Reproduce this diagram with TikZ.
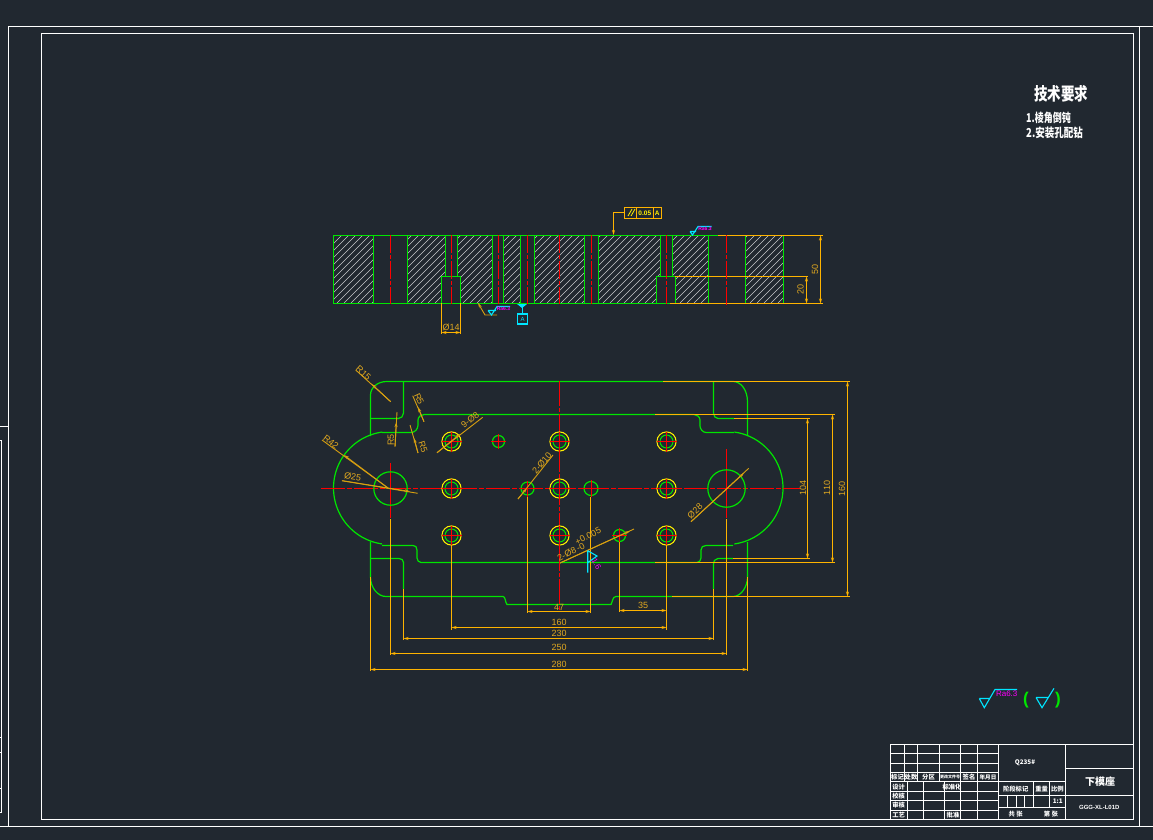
\documentclass[tikz,border=0pt]{standalone}
\usepackage{fontspec}
\usepackage{graphicx}
\setmainfont{Liberation Sans}
\newfontfamily\cjk{Noto Sans CJK SC}
\usetikzlibrary{arrows.meta}
\definecolor{bgc}{HTML}{212830}
\definecolor{grn}{HTML}{00E600}
\definecolor{org}{HTML}{FFB400}
\definecolor{dimt}{HTML}{E0A820}
\definecolor{ldrc}{HTML}{D8A010}
\definecolor{redc}{HTML}{FF0000}
\definecolor{yel}{HTML}{FFF000}
\definecolor{cya}{HTML}{00E5FF}
\definecolor{mag}{HTML}{FF00FF}
\tikzset{
 x=1pt,y=-1pt,
 frameline/.style={draw=white,line width=1.1pt},
 tbl/.style={draw=white,line width=1pt},
 gl/.style={draw=grn,line width=1.2pt},
 ol/.style={draw=org,line width=1.2pt},
 rl/.style={draw=redc,line width=1.25pt,dash pattern=on 18pt off 2pt on 4pt off 2pt},
 rlong/.style={draw=redc,line width=1.4pt,dash pattern=on 24pt off 2pt on 5pt off 2pt},
 rsolid/.style={draw=redc,line width=1.4pt},
 cl/.style={draw=cya,line width=1.1pt},
 hatchline/.style={draw=white!75!bgc,line width=.6pt},
 dimarrow/.style={draw=org,line width=1.2pt,{Stealth[length=5pt,width=3pt]}-{Stealth[length=5pt,width=3pt]}},
 ldrline/.style={draw=ldrc,line width=.9pt},
 dimtxt/.style={text=dimt,font=\fontsize{9}{9}\selectfont,inner sep=0pt},
 tbt/.style={text=white,font=\cjk\bfseries\fontsize{6.3}{6.3}\selectfont,inner sep=0pt},
 magt/.style={text=mag,font=\fontsize{8}{8}\selectfont,inner sep=0pt},
 wht/.style={text=white,inner sep=0pt},
}
\newcommand\ldr[3]{\draw[ldrline] #1 -- #3; \draw[ldrline,-{Stealth[length=5pt,width=3pt]}] #1 -- #2;}
\newcommand\cbore[2]{\draw[yel,line width=1pt] (#1,#2) circle (9.6);\draw[gl,line width=1pt] (#1,#2) circle (6.5);
 \draw[redc,line width=1pt] (#1-10,#2) -- (#1+10,#2) (#1,#2-10) -- (#1,#2+10);}
\newcommand\shole[3]{\draw[gl] (#1,#2) circle (#3);
 \draw[redc,line width=1pt] (#1-#3-1.5,#2) -- (#1+#3+1.5,#2) (#1,#2-#3-1.5) -- (#1,#2+#3+1.5);}
\begin{document}
\begin{tikzpicture}
\useasboundingbox (0,0) rectangle (1153,840);
\fill[bgc] (0,0) rectangle (1153,840);
% frames
\draw[frameline] (1153,26.5) -- (8.5,26.5) -- (8.5,826.5);
\draw[frameline] (0,826.5) -- (1153,826.5);
\draw[frameline] (1139.5,26.5) -- (1139.5,826.5);
\draw[frameline] (41.5,33.5) rectangle (1133.5,819.5);
\draw[frameline] (0,426.5) -- (8.5,426.5);
\draw[frameline] (0,440.5) -- (1.5,440.5) -- (1.5,812.5) -- (0,812.5);
\draw[frameline] (0,737.5) -- (1.5,737.5) (0,752.5) -- (1.5,752.5) (0,788.5) -- (1.5,788.5);
% hatching of the section
\begin{scope}
\clip (333,235) rectangle (373,303)
 (407,235) -- (445,235) -- (445,276) -- (441.5,276) -- (441.5,303) -- (407,303) -- cycle
 (457,235) -- (492,235) -- (492,303) -- (460.5,303) -- (460.5,276) -- (457,276) -- cycle
 (503,235) rectangle (520.5,303)
 (534.5,235) rectangle (584.5,303)
 (598,235) -- (660,235) -- (660,276) -- (656,276) -- (656,303) -- (598,303) -- cycle
 (672,235) -- (708,235) -- (708,303) -- (675,303) -- (675,276) -- (672,276) -- cycle
 (745,235) rectangle (783,303);
\foreach \k in {260,267,...,790}{\draw[hatchline] (\k,303) -- (\k+68,235);}
\end{scope}
% section outlines
\draw[gl] (333,235.5) -- (718,235.5) (333,303.5) -- (670,303.5) (333.5,235) -- (333.5,303);
\foreach \k in {373.5,407.5,492.5,503.5,520.5,534.5,584.5,598.5,708.5,745.5,783.5}{\draw[gl] (\k,235) -- (\k,303);}
\draw[gl] (445.5,235) -- (445.5,276) (457.5,235) -- (457.5,276) (441.5,303) -- (441.5,276.5) -- (460.5,276.5) -- (460.5,303);
\draw[gl] (660.5,235) -- (660.5,276) (672.5,235) -- (672.5,276) (656.5,303) -- (656.5,276.5) -- (675.5,276.5) -- (675.5,303);
\draw[ol] (718,235.5) -- (823,235.5) (670,303.5) -- (823,303.5) (675,276.5) -- (808,276.5);
\foreach \k in {390.5,451.5,498.5,527.5,559.5,591.5,666.5}{\draw[rl] (\k,235) -- (\k,303.5);}
\draw[rl] (726.5,235) -- (726.5,307);
% section dimensions
\draw[dimarrow] (820.5,235.5) -- (820.5,303.5);
\node[dimtxt,rotate=90] (d50) at (815,269) {50};
\draw[dimarrow] (806.5,276.5) -- (806.5,303.5);
\node[dimtxt,rotate=90] (d20) at (800.5,289) {20};
\draw[ol] (441.5,303) -- (441.5,333.5) (460.5,303) -- (460.5,333.5);
\draw[dimarrow] (441.5,332.5) -- (460.5,332.5);
\node[dimtxt] (d14) at (451,327) {Ø14};
% section roughness, datum, tolerance
\draw[ldrline,{Stealth[length=5pt,width=3pt]}-] (478,303) -- (485,315) -- (497,315);
\draw[cl] (488,310.5) -- (496,310.5) (488,310.5) -- (491.5,315) -- (497,306.5) -- (510,306.5);
\node[magt,font=\bfseries\fontsize{5}{5}\selectfont] (ra1) at (503.5,309) {Ra6.3};
\fill[cya] (517,304) -- (527,304) -- (522,308) -- cycle;
\draw[cl] (522.5,306) -- (522.5,314);
\node[cl,draw,minimum width=10.5pt,minimum height=10pt,inner sep=0pt,text=cya,font=\fontsize{6}{6}\selectfont] (datA) at (522.5,319) {A};
\draw[ol] (624.5,207.5) rectangle (661.5,218.5) (636.5,207.5) -- (636.5,218.5) (653.5,207.5) -- (653.5,218.5);
\draw[ol,draw=yel,line width=.8pt] (628,216) -- (632,209) (631,216) -- (635,209);
\node[text=yel,inner sep=0pt,font=\bfseries\fontsize{6.5}{6.5}\selectfont] (tol) at (644.8,213) {0.05};
\node[text=yel,inner sep=0pt,font=\bfseries\fontsize{6.5}{6.5}\selectfont] (tola) at (657.3,213) {A};
\draw[ol,-{Stealth[length=5pt,width=3pt]}] (624.5,212.5) -- (613.5,212.5) -- (613.5,235);
\draw[cl] (690,231.5) -- (696,231.5) (690,231.5) -- (692.5,235) -- (698,226.5) -- (711.7,226.5);
\node[magt,font=\bfseries\fontsize{5}{5}\selectfont] (ra2) at (705,229) {Ra6.3};
% plan view outlines
\draw[gl] (370.5,436) -- (370.5,395) .. controls (370.5,387.6) and (377.5,381.5) .. (386.7,381.5) -- (733,381.5) .. controls (741,381.5) and (747.5,390) .. (747.5,402) -- (747.5,436);
\draw[gl] (403.5,381.5) -- (403.5,413) .. controls (403.5,416) and (401,418.5) .. (398.5,418.5) -- (370.5,418.5);
\draw[gl] (713.5,381.5) -- (713.5,413) .. controls (713.5,416) and (715.5,418.5) .. (718,418.5) -- (734,418.5);
\draw[gl] plot[domain=98:262,samples=70] ({390+56.5*cos(\x)},{488+56.5*sin(\x)});
\draw[gl] plot[domain=-82:82,samples=70] ({726.5+56.5*cos(\x)},{488+56.5*sin(\x)});
\draw[gl] (382,432.5) -- (411,432.5) .. controls (415,432.5) and (418,429) .. (418,425) -- (418,420) .. controls (418,417) and (421,414.5) .. (424,414.5) -- (694,414.5) .. controls (697,414.5) and (700,417) .. (700,420) -- (700,426) .. controls (700,429) and (703,432.5) .. (706,432.5) -- (734,432.5);
\draw[gl] (382,545.5) -- (413,545.5) .. controls (415.5,545.5) and (417,547) .. (417,550) -- (417,558) .. controls (417,560.5) and (419,562.5) .. (421,562.5) -- (697,562.5) .. controls (699,562.5) and (701,560.5) .. (701,558) -- (701,550) .. controls (701,547) and (703,545.5) .. (706,545.5) -- (733,545.5);
\draw[gl] (370.5,542) -- (370.5,577) .. controls (370.5,588) and (378,596.5) .. (386,596.5) -- (503,596.5) .. controls (505.5,596.5) and (505,602) .. (507,604.5) -- (611,604.5) .. controls (612.5,602) and (612.5,596.5) .. (616,596.5) -- (733,596.5) .. controls (741,596.5) and (747.5,587) .. (747.5,577) -- (747.5,542);
\draw[gl] (370.5,558.5) -- (399,558.5) .. controls (401.5,558.5) and (403.5,560) .. (403.5,562.5) -- (403.5,589);
\draw[gl] (713.5,589) -- (713.5,565) .. controls (713.5,561) and (715,558.5) .. (718,558.5) -- (733,558.5);
% plan view centre lines
\draw[rlong] (321,488.5) -- (800,488.5);
\foreach \s in {381,414,...,580}{\draw[rsolid] (559.5,\s) -- (559.5,\s+25) (559.5,\s+27) -- (559.5,\s+31);}
\draw[redc,line width=1.2pt] (390.5,463) -- (390.5,518);
\draw[redc,line width=1.2pt] (726.5,449) -- (726.5,518);
% holes
\foreach \hx in {451.5,559.5,666.5}{\foreach \hy in {441.5,488.5,535.5}{\cbore{\hx}{\hy}}}
\shole{498.5}{441.5}{6}
\shole{527.5}{488.5}{6.5}
\shole{591}{488.5}{7}
\shole{619.5}{535.5}{6}
\draw[gl] (390.5,488.5) circle (16.7);
\draw[gl] (726.5,488.5) circle (18.7);
% extension lines of plan view
\draw[ol] (663,381.5) -- (850,381.5) (655,414.5) -- (835,414.5) (734,418.5) -- (810,418.5)
 (655,562.5) -- (835,562.5) (733,558.5) -- (810,558.5) (672,596.5) -- (850,596.5);
\draw[ol] (451.5,545) -- (451.5,630) (666.5,545) -- (666.5,630) (527.5,497) -- (527.5,613) (590.5,497) -- (590.5,613) (619.5,542) -- (619.5,612)
 (403.5,589) -- (403.5,640) (713.5,589) -- (713.5,640) (390.5,519) -- (390.5,655) (726.5,519) -- (726.5,655) (370.5,577) -- (370.5,671) (747.5,577) -- (747.5,671);
% plan dimensions
\draw[dimarrow] (847.5,381.5) -- (847.5,596.5);
\node[dimtxt,rotate=90] (d160v) at (842,489) {160};
\draw[dimarrow] (832.5,414.5) -- (832.5,562.5);
\node[dimtxt,rotate=90] (d110) at (827,488) {110};
\draw[dimarrow] (807.5,418.5) -- (807.5,558.5);
\node[dimtxt,rotate=90] (d104) at (803,488) {104};
\draw[dimarrow] (527.5,611.5) -- (590.5,611.5);
\node[dimtxt] (d47) at (559,607) {47};
\draw[dimarrow] (619.5,610.5) -- (666.5,610.5);
\node[dimtxt] (d35) at (643,605) {35};
\draw[dimarrow] (451.5,627.5) -- (666.5,627.5);
\node[dimtxt] (d160) at (559,622) {160};
\draw[dimarrow] (403.5,638.5) -- (713.5,638.5);
\node[dimtxt] (d230) at (559,633) {230};
\draw[dimarrow] (390.5,653.5) -- (726.5,653.5);
\node[dimtxt] (d250) at (559,647.5) {250};
\draw[dimarrow] (370.5,669.5) -- (747.5,669.5);
\node[dimtxt] (d280) at (559,664) {280};
% leaders
\ldr{(390.7,401.7)}{(371.7,384)}{(355.7,370)}
\node[dimtxt,rotate=-42] (r15) at (363.5,373) {R15};
\ldr{(424,421.7)}{(418,407)}{(412.7,395.7)}
\node[dimtxt,rotate=-65] (r5a) at (419,399) {R5};
\ldr{(395,446.7)}{(396.3,422)}{(397,412)}
\node[dimtxt,rotate=90] (r5b) at (390.7,440) {R5};
\ldr{(418,453)}{(414,438)}{(410,425)}
\node[dimtxt,rotate=-72] (r5c) at (423,447) {R5};
\ldr{(437,452.7)}{(460,434)}{(482.7,417.3)}
\node[dimtxt,rotate=38] (n9) at (470,420) {9-Ø8};
\ldr{(388,488)}{(344,455)}{(322,440)}
\node[dimtxt,rotate=-37] (r42) at (331,442) {R42};
\ldr{(342,480.7)}{(410,491.5)}{(417.7,493.3)}
\node[dimtxt,rotate=-9] (o25) at (352.7,477) {Ø25};
\ldr{(518,499)}{(527,488)}{(553,455)}
\node[dimtxt,rotate=50] (n2a) at (542,463) {2-Ø10};
\ldr{(691,521.7)}{(744,473)}{(748.7,468.3)}
\node[dimtxt,rotate=43] (o28) at (695,511) {Ø28};
\ldr{(560,563)}{(630,531)}{(634,529)}
\node[dimtxt,rotate=27] (tolup) at (588,536) {+0.005};
\node[dimtxt,rotate=27] (tollo) at (571,552) {2-Ø8\,-0};
\draw[cl] (587.7,550.7) -- (587.7,572.7) (587.7,550.7) -- (597,556) -- (587.7,562.7);
\node[magt,rotate=-60] (ra3) at (596.5,564) {1.6};
% title block
\draw[tbl] (890.5,744.5) rectangle (1133.5,819.5);
\draw[tbl] (890.5,753.5) -- (998.5,753.5) (890.5,763.5) -- (998.5,763.5) (890.5,772.5) -- (998.5,772.5) (890.5,781.5) -- (1065.5,781.5)
 (890.5,791.5) -- (998.5,791.5) (890.5,800.5) -- (998.5,800.5) (890.5,810.5) -- (998.5,810.5);
\foreach \k in {904.5,917.5,939.5,960.5,977.5}{\draw[tbl] (\k,744.5) -- (\k,781.5);}
\foreach \k in {907.5,923.5,944.5,960.5,977.5}{\draw[tbl] (\k,781.5) -- (\k,819.5);}
\draw[tbl] (998.5,744.5) -- (998.5,819.5) (1065.5,744.5) -- (1065.5,819.5);
\draw[tbl] (998.5,795.5) -- (1133.5,795.5) (998.5,807.5) -- (1065.5,807.5) (1065.5,768.5) -- (1133.5,768.5);
\draw[tbl] (1033.5,781.5) -- (1033.5,807.5) (1049.5,781.5) -- (1049.5,807.5);
\foreach \k in {1007.5,1016.5,1024.5}{\draw[tbl] (\k,795.5) -- (\k,807.5);}
\node[tbt] (h1) at (897.5,777.2) {标记};
\node[tbt] (h2) at (911,777.2) {处数};
\node[tbt] (h3) at (928.5,777.2) {分区};
\node[tbt,font=\cjk\bfseries\fontsize{4}{4}\selectfont] (h4) at (950,777.2) {更改文件号};
\node[tbt] (h5) at (969,777.2) {签名};
\node[tbt,font=\cjk\bfseries\fontsize{5.6}{5.6}\selectfont] (h6) at (988,777.2) {年月日};
\node[tbt] (r1) at (898.7,786.7) {设计};
\node[tbt] (r2) at (952,786.7) {标准化};
\node[tbt] (r3) at (898.7,796) {校核};
\node[tbt] (r4) at (898.7,805.5) {审核};
\node[tbt] (r5) at (898.7,815) {工艺};
\node[tbt] (r6) at (953,815) {批准};
\node[tbt] (m1) at (1015.7,789) {阶段标记};
\node[tbt] (m2) at (1041.7,789) {重量};
\node[tbt] (m3) at (1057.3,789) {比例};
\node[tbt] (m4) at (1057.7,801.7) {1:1};
\node[tbt] (m5) at (1015.7,813.7) {共\ 张};
\node[tbt] (m6) at (1051,813.7) {第\ 张};
\node[tbt] (mat) at (1025,762.7) {Q235\#};
\node[tbt,font=\cjk\bfseries\fontsize{10}{10}\selectfont] (nm) at (1100,781.3) {下模座};
\node[tbt,font=\bfseries\fontsize{6}{6}\selectfont] (no) at (1099.3,807) {GGG-XL-L01D};
% technical requirements
\node[wht,font=\cjk\bfseries\fontsize{13.5}{13.5}\selectfont] (tr0) at (1061,93.5) {\scalebox{1}[1.3]{技术要求}};
\node[wht,anchor=west,font=\cjk\bfseries\fontsize{9}{9}\selectfont] (tr1) at (1026,117.5) {\scalebox{1}[1.35]{1.棱角倒钝}};
\node[wht,anchor=west,font=\cjk\bfseries\fontsize{9.5}{9.5}\selectfont] (tr2) at (1026,132.5) {\scalebox{1}[1.3]{2.安装孔配钻}};
% general roughness
\draw[cl] (979.3,698.5) -- (989.3,698.5) (979.3,698.5) -- (984.3,707.7) -- (995,689.5) -- (1017,689.5);
\node[magt,font=\fontsize{8}{8}\selectfont] (ra4) at (1006.7,694) {Ra6.3};
\node[text=grn,inner sep=0pt,font=\bfseries\fontsize{17}{17}\selectfont] (pl) at (1026,700) {(};
\node[text=grn,inner sep=0pt,font=\bfseries\fontsize{17}{17}\selectfont] (pr) at (1058,700) {)};
\draw[cl] (1036,697.5) -- (1048,697.5) (1036,697.5) -- (1042,707.7) -- (1054,688.3);
\end{tikzpicture}
\end{document}
